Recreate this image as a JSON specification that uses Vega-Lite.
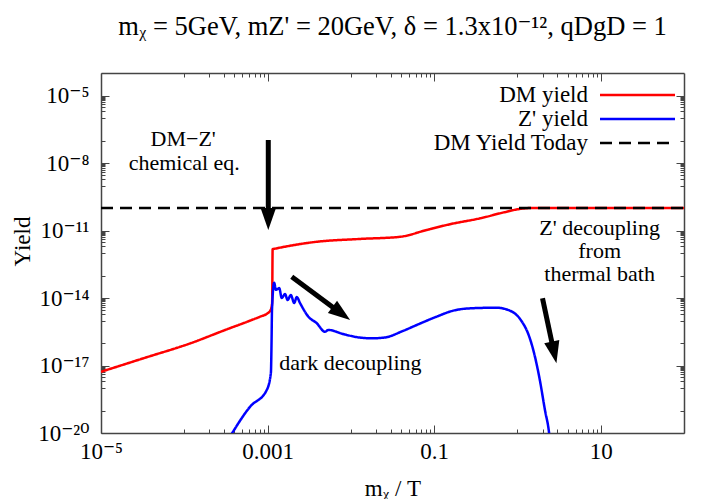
{
  "$schema": "https://vega.github.io/schema/vega-lite/v6.json",
  "width": 583,
  "height": 360,
  "autosize": "none",
  "padding": {"left": 101, "top": 73, "right": 20, "bottom": 66},
  "background": "white",
  "title": {"text": "mᵪ = 5GeV, mZ' = 20GeV, δ = 1.3x10⁻¹², qDgD = 1", "font": "Liberation Serif, Times New Roman, DejaVu Serif, serif", "fontSize": 26.5, "fontWeight": "normal", "color": "black", "anchor": "middle", "frame": "group", "offset": 32},
  "datasets": {
    "lines": [
      {"series": "DM yield", "x": 1e-5, "y": 5.25e-18},
      {"series": "DM yield", "x": 3.16e-5, "y": 2.04e-17},
      {"series": "DM yield", "x": 1.23e-4, "y": 1.02e-16},
      {"series": "DM yield", "x": 3.16e-4, "y": 3.9e-16},
      {"series": "DM yield", "x": 6.31e-4, "y": 1.02e-15},
      {"series": "DM yield", "x": 8.13e-4, "y": 1.48e-15},
      {"series": "DM yield", "x": 1e-3, "y": 2.09e-15},
      {"series": "DM yield", "x": 1.07e-3, "y": 2.63e-15},
      {"series": "DM yield", "x": 1.11e-3, "y": 3.55e-15},
      {"series": "DM yield", "x": 1.135e-3, "y": 6.3e-15},
      {"series": "DM yield", "x": 1.15e-3, "y": 1.48e-12},
      {"series": "DM yield", "x": 1.17e-3, "y": 1.5e-12},
      {"series": "DM yield", "x": 3.9e-3, "y": 3.16e-12},
      {"series": "DM yield", "x": 0.0126, "y": 4.2e-12},
      {"series": "DM yield", "x": 0.039, "y": 5.25e-12},
      {"series": "DM yield", "x": 0.081, "y": 1.05e-11},
      {"series": "DM yield", "x": 0.155, "y": 1.9e-11},
      {"series": "DM yield", "x": 0.355, "y": 3.47e-11},
      {"series": "DM yield", "x": 0.7, "y": 6.5e-11},
      {"series": "DM yield", "x": 1.07, "y": 9.1e-11},
      {"series": "DM yield", "x": 1.5, "y": 1e-10},
      {"series": "DM yield", "x": 100, "y": 1e-10},
      {"series": "Z' yield", "x": 3.55e-4, "y": 7e-21},
      {"series": "Z' yield", "x": 6.17e-4, "y": 1.48e-19},
      {"series": "Z' yield", "x": 9.77e-4, "y": 8.1e-19},
      {"series": "Z' yield", "x": 1.096e-3, "y": 4.7e-18},
      {"series": "Z' yield", "x": 1.117e-3, "y": 1.35e-16},
      {"series": "Z' yield", "x": 1.13e-3, "y": 2.95e-15},
      {"series": "Z' yield", "x": 1.2e-3, "y": 4.8e-14},
      {"series": "Z' yield", "x": 1.26e-3, "y": 2.3e-14},
      {"series": "Z' yield", "x": 1.38e-3, "y": 2.75e-14},
      {"series": "Z' yield", "x": 1.48e-3, "y": 1.0e-14},
      {"series": "Z' yield", "x": 1.62e-3, "y": 1.5e-14},
      {"series": "Z' yield", "x": 1.74e-3, "y": 8.1e-15},
      {"series": "Z' yield", "x": 1.9e-3, "y": 1.35e-14},
      {"series": "Z' yield", "x": 2.09e-3, "y": 6.0e-15},
      {"series": "Z' yield", "x": 2.24e-3, "y": 1.1e-14},
      {"series": "Z' yield", "x": 2.45e-3, "y": 6.0e-15},
      {"series": "Z' yield", "x": 3.09e-3, "y": 1.48e-15},
      {"series": "Z' yield", "x": 3.89e-3, "y": 7.6e-16},
      {"series": "Z' yield", "x": 4.9e-3, "y": 3.16e-16},
      {"series": "Z' yield", "x": 5.37e-3, "y": 3.8e-16},
      {"series": "Z' yield", "x": 8.1e-3, "y": 2.5e-16},
      {"series": "Z' yield", "x": 0.0129, "y": 1.74e-16},
      {"series": "Z' yield", "x": 0.0178, "y": 1.62e-16},
      {"series": "Z' yield", "x": 0.0251, "y": 1.74e-16},
      {"series": "Z' yield", "x": 0.0427, "y": 3.5e-16},
      {"series": "Z' yield", "x": 0.0617, "y": 6.3e-16},
      {"series": "Z' yield", "x": 0.107, "y": 1.48e-15},
      {"series": "Z' yield", "x": 0.17, "y": 2.75e-15},
      {"series": "Z' yield", "x": 0.27, "y": 3.47e-15},
      {"series": "Z' yield", "x": 0.56, "y": 3.7e-15},
      {"series": "Z' yield", "x": 0.81, "y": 2.75e-15},
      {"series": "Z' yield", "x": 1.07, "y": 1.2e-15},
      {"series": "Z' yield", "x": 1.41, "y": 1.6e-16},
      {"series": "Z' yield", "x": 1.55, "y": 4.9e-17},
      {"series": "Z' yield", "x": 1.86, "y": 2.2e-18},
      {"series": "Z' yield", "x": 2.14, "y": 1.05e-19},
      {"series": "Z' yield", "x": 2.4, "y": 1e-20},
      {"series": "Z' yield", "x": 2.45, "y": 5e-21},
      {"series": "DM Yield Today", "x": 1e-5, "y": 1e-10},
      {"series": "DM Yield Today", "x": 100, "y": 1e-10}
    ],
    "labels": [
      {"x": 9.7e-5, "y": 1.2e-7, "text": "DM−Z'"},
      {"x": 1e-4, "y": 1.05e-8, "text": "chemical eq."},
      {"x": 9.86e-3, "y": 1.29e-17, "text": "dark decoupling"},
      {"x": 9.7, "y": 1.29e-11, "text": "Z' decoupling"},
      {"x": 9.7, "y": 1.23e-12, "text": "from"},
      {"x": 9.7, "y": 1.17e-13, "text": "thermal bath"}
    ],
    "shafts": [
      {"x": 1.02e-3, "y": 1.05e-7, "x2": 1.02e-3, "y2": 4.9e-11},
      {"x": 1.95e-3, "y": 8.9e-14, "x2": 6.98e-3, "y2": 2.63e-15},
      {"x": 2.0, "y": 9.8e-15, "x2": 2.69, "y2": 5.6e-17}
    ],
    "heads": [
      {"x": 1.02e-3, "y": 1.05e-11, "dir": 180},
      {"x": 9.8e-3, "y": 1.05e-15, "dir": 126.6},
      {"x": 2.94, "y": 1.26e-17, "dir": 167.8}
    ]
  },
  "layer": [
    {
      "data": {"name": "lines"},
      "transform": [{"filter": "datum.series != 'DM Yield Today'"}],
      "mark": {"type": "line", "strokeWidth": 2.5, "clip": true, "interpolate": "monotone"},
      "encoding": {
        "x": {"field": "x", "type": "quantitative",
          "scale": {"type": "log", "domain": [1e-5, 100], "nice": false},
          "axis": {"orient": "bottom", "title": "mᵪ / T",
            "values": [1e-5, 1e-4, 2e-4, 3e-4, 4e-4, 5e-4, 6e-4, 7e-4, 8e-4, 9e-4, 0.001, 0.01, 0.02, 0.03, 0.04, 0.05, 0.06, 0.07, 0.08, 0.09, 0.1, 1, 2, 3, 4, 5, 6, 7, 8, 9, 10],
            "labelExpr": "datum.value == 1e-5 ? '10⁻⁵' : datum.value == 0.001 ? '0.001' : datum.value == 0.1 ? '0.1' : datum.value == 10 ? '10' : ''",
            "tickSize": {"condition": {"test": "indexof([1e-5, 0.001, 0.1, 10], datum.value) >= 0", "value": -8}, "value": -4},
            "labelPadding": 15, "labelOverlap": false, "labelFlush": false,
            "titleX": 291.5, "titleY": 55, "titleBaseline": "middle", "titleAlign": "center"}},
        "y": {"field": "y", "type": "quantitative",
          "scale": {"type": "log", "domain": [1e-20, 1e-4], "nice": false},
          "axis": {"orient": "left", "title": "Yield",
            "values": [1e-20, 1e-19, 1e-18, 2e-18, 3e-18, 4e-18, 5e-18, 6e-18, 7e-18, 8e-18, 9e-18, 1e-17, 1e-16, 1e-15, 2e-15, 3e-15, 4e-15, 5e-15, 6e-15, 7e-15, 8e-15, 9e-15, 1e-14, 1e-13, 1e-12, 2e-12, 3e-12, 4e-12, 5e-12, 6e-12, 7e-12, 8e-12, 9e-12, 1e-11, 1e-10, 1e-9, 2e-9, 3e-9, 4e-9, 5e-9, 6e-9, 7e-9, 8e-9, 9e-9, 1e-8, 1e-7, 1e-6, 2e-6, 3e-6, 4e-6, 5e-6, 6e-6, 7e-6, 8e-6, 9e-6, 1e-5],
            "labelExpr": "datum.value == 1e-20 ? '10⁻²⁰' : datum.value == 1e-17 ? '10⁻¹⁷' : datum.value == 1e-14 ? '10⁻¹⁴' : datum.value == 1e-11 ? '10⁻¹¹' : datum.value == 1e-8 ? '10⁻⁸' : datum.value == 1e-5 ? '10⁻⁵' : ''",
            "tickSize": {"condition": {"test": "indexof([1e-20, 1e-17, 1e-14, 1e-11, 1e-8, 1e-5], datum.value) >= 0", "value": -8}, "value": -4},
            "labelPadding": 20, "labelOverlap": false, "labelFlush": false,
            "titleX": -79, "titleY": 168, "titleBaseline": "middle", "titleAlign": "center", "titleAngle": -90}},
        "color": {"field": "series", "type": "nominal",
          "scale": {"domain": ["DM yield", "Z' yield", "DM Yield Today"], "range": ["#ff0000", "#0000ff", "#000000"]},
          "legend": {"title": null, "orient": "none", "legendX": 525, "legendY": 10.5, "symbolType": "M-3.75,0L3.75,0", "symbolSize": 400, "symbolStrokeWidth": 2.5, "symbolFillColor": "transparent", "labelFont": "Liberation Serif, Times New Roman, DejaVu Serif, serif", "labelFontSize": 23, "labelColor": "black", "labelAlign": "right", "labelOffset": -61, "rowPadding": 0, "padding": 0, "labelLimit": 300}},
        "strokeDash": {"field": "series", "type": "nominal",
          "scale": {"domain": ["DM yield", "Z' yield", "DM Yield Today"], "range": [[1, 0], [1, 0], [12, 7]]}}
      }
    },
    {
      "data": {"name": "lines"},
      "transform": [{"filter": "datum.series == 'DM Yield Today'"}],
      "mark": {"type": "line", "strokeWidth": 2.5, "clip": true},
      "encoding": {
        "x": {"field": "x", "type": "quantitative", "scale": {"type": "log", "domain": [1e-5, 100], "nice": false}, "axis": null},
        "y": {"field": "y", "type": "quantitative", "scale": {"type": "log", "domain": [1e-20, 1e-4], "nice": false}, "axis": null},
        "color": {"field": "series", "type": "nominal",
          "scale": {"domain": ["DM yield", "Z' yield", "DM Yield Today"], "range": ["#ff0000", "#0000ff", "#000000"]}},
        "strokeDash": {"field": "series", "type": "nominal",
          "scale": {"domain": ["DM yield", "Z' yield", "DM Yield Today"], "range": [[1, 0], [1, 0], [12, 7]]}}
      }
    },
    {
      "data": {"name": "shafts"},
      "mark": {"type": "rule", "strokeWidth": 5, "color": "black", "strokeCap": "butt"},
      "encoding": {
        "x": {"field": "x", "type": "quantitative", "scale": {"type": "log", "domain": [1e-5, 100], "nice": false}, "axis": null},
        "y": {"field": "y", "type": "quantitative", "scale": {"type": "log", "domain": [1e-20, 1e-4], "nice": false}, "axis": null},
        "x2": {"field": "x2"},
        "y2": {"field": "y2"}
      }
    },
    {
      "data": {"name": "heads"},
      "mark": {"type": "point", "shape": "M0,0L0.7,2L-0.7,2Z", "size": 484, "filled": true, "color": "black", "opacity": 1, "strokeWidth": 0},
      "encoding": {
        "x": {"field": "x", "type": "quantitative", "scale": {"type": "log", "domain": [1e-5, 100], "nice": false}, "axis": null},
        "y": {"field": "y", "type": "quantitative", "scale": {"type": "log", "domain": [1e-20, 1e-4], "nice": false}, "axis": null},
        "angle": {"field": "dir", "type": "quantitative", "scale": null}
      }
    },
    {
      "data": {"name": "labels"},
      "mark": {"type": "text", "font": "Liberation Serif, Times New Roman, DejaVu Serif, serif", "fontSize": 22, "color": "black", "align": "center", "baseline": "middle"},
      "encoding": {
        "x": {"field": "x", "type": "quantitative", "scale": {"type": "log", "domain": [1e-5, 100], "nice": false},
          "axis": {"orient": "top", "title": null, "labels": false,
            "values": [1e-5, 1e-4, 2e-4, 3e-4, 4e-4, 5e-4, 6e-4, 7e-4, 8e-4, 9e-4, 0.001, 0.01, 0.02, 0.03, 0.04, 0.05, 0.06, 0.07, 0.08, 0.09, 0.1, 1, 2, 3, 4, 5, 6, 7, 8, 9, 10],
            "tickSize": {"condition": {"test": "indexof([1e-5, 0.001, 0.1, 10], datum.value) >= 0", "value": -8}, "value": -4}}},
        "y": {"field": "y", "type": "quantitative", "scale": {"type": "log", "domain": [1e-20, 1e-4], "nice": false},
          "axis": {"orient": "right", "title": null, "labels": false,
            "values": [1e-20, 1e-19, 1e-18, 2e-18, 3e-18, 4e-18, 5e-18, 6e-18, 7e-18, 8e-18, 9e-18, 1e-17, 1e-16, 1e-15, 2e-15, 3e-15, 4e-15, 5e-15, 6e-15, 7e-15, 8e-15, 9e-15, 1e-14, 1e-13, 1e-12, 2e-12, 3e-12, 4e-12, 5e-12, 6e-12, 7e-12, 8e-12, 9e-12, 1e-11, 1e-10, 1e-9, 2e-9, 3e-9, 4e-9, 5e-9, 6e-9, 7e-9, 8e-9, 9e-9, 1e-8, 1e-7, 1e-6, 2e-6, 3e-6, 4e-6, 5e-6, 6e-6, 7e-6, 8e-6, 9e-6, 1e-5],
            "tickSize": {"condition": {"test": "indexof([1e-20, 1e-17, 1e-14, 1e-11, 1e-8, 1e-5], datum.value) >= 0", "value": -8}, "value": -4}}},
        "text": {"field": "text", "type": "nominal"}
      }
    }
  ],
  "resolve": {"axis": {"x": "independent", "y": "independent"}},
  "config": {
    "view": {"stroke": null},
    "font": "Liberation Serif, Times New Roman, DejaVu Serif, serif",
    "text": {"font": "Liberation Serif, Times New Roman, DejaVu Serif, serif"},
    "legend": {"labelFont": "Liberation Serif, Times New Roman, DejaVu Serif, serif"},
    "title": {"font": "Liberation Serif, Times New Roman, DejaVu Serif, serif"},
    "axis": {"grid": false, "domainColor": "#444", "domainWidth": 1.5, "tickColor": "#444", "tickWidth": 1, "labelFont": "Liberation Serif, Times New Roman, DejaVu Serif, serif", "labelFontSize": 23, "labelColor": "black", "titleFont": "Liberation Serif, Times New Roman, DejaVu Serif, serif", "titleFontSize": 23, "titleFontWeight": "normal", "titleColor": "black"}
  }
}
